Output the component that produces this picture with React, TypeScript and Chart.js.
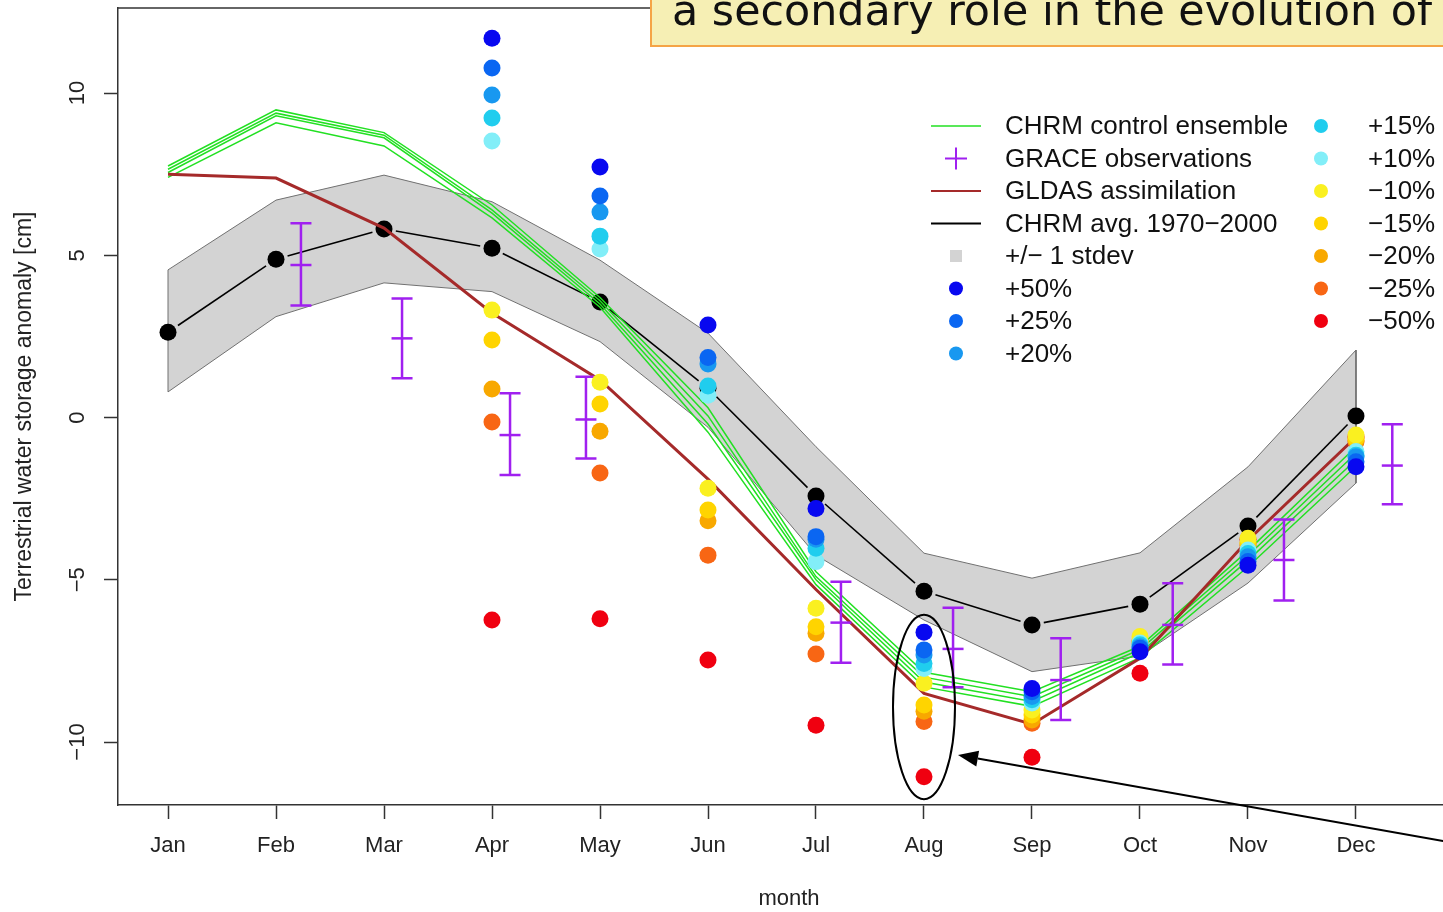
import React, { useEffect, useRef } from 'react';
import { Chart, registerables } from 'chart.js';

Chart.register(...registerables);

// ---------- data ----------
const monthLabels = ['Jan', 'Feb', 'Mar', 'Apr', 'May', 'Jun', 'Jul', 'Aug', 'Sep', 'Oct', 'Nov', 'Dec'];
const monthPos = [1, 2, 3, 4, 5, 6, 7, 8, 9, 10, 11, 12];
const yTickValues = [-10, -5, 0, 5, 10];

const chrmAvg = [2.63, 4.88, 5.81, 5.22, 3.56, 0.9, -2.42, -5.35, -6.39, -5.75, -3.34, 0.05];
const stdevUpper = [4.55, 6.7, 7.47, 6.65, 4.85, 2.6, -0.9, -4.18, -4.95, -4.17, -1.52, 2.08];
const stdevLower = [0.79, 3.11, 4.15, 3.88, 2.34, -0.3, -4.24, -6.24, -7.83, -7.35, -5.1, -2.02];

const ensemble1 = [7.75, 9.48, 8.78, 6.55, 3.7, 0.3, -4.75, -7.85, -8.45, -7.05, -4.1, -0.9];
const ensemble2 = [7.65, 9.38, 8.7, 6.4, 3.6, 0.05, -4.9, -8.0, -8.6, -7.15, -4.25, -1.1];
const ensemble3 = [7.55, 9.3, 8.62, 6.3, 3.5, -0.2, -5.0, -8.15, -8.75, -7.25, -4.4, -1.3];
const ensemble4 = [7.4, 9.08, 8.37, 6.15, 3.4, -0.45, -5.15, -8.3, -8.9, -7.4, -4.6, -1.5];

const gldas = [7.5, 7.38, 5.84, 3.22, 1.16, -1.9, -5.3, -8.5, -9.45, -7.42, -3.78, -0.6];

const graceX = [2.231, 3.167, 4.167, 4.87, 7.231, 8.269, 9.266, 10.303, 11.333, 12.336];
const graceMean = [4.7, 2.44, -0.54, -0.06, -6.32, -7.13, -8.09, -6.39, -4.39, -1.48];
const graceUpper = [5.99, 3.67, 0.75, 1.26, -5.06, -5.86, -6.8, -5.11, -3.14, -0.21];
const graceLower = [3.45, 1.21, -1.77, -1.26, -7.56, -8.31, -9.32, -7.61, -5.64, -2.67];

const scenP50 = [null, null, null, 11.69, 7.72, 2.85, -2.8, -6.62, -8.35, -7.22, -4.55, -1.52];
const scenP25 = [null, null, null, 10.77, 6.83, 1.85, -3.67, -7.16, -8.45, -7.11, -4.44, -1.36];
const scenP20 = [null, null, null, 9.94, 6.33, 1.65, -3.75, -7.32, -8.6, -7.06, -4.29, -1.21];
const scenP15 = [null, null, null, 9.23, 5.59, 0.97, -4.03, -7.58, -8.7, -7.0, -4.19, -1.16];
const scenP10 = [null, null, null, 8.52, 5.19, 0.69, -4.44, -7.73, -8.8, -6.95, -4.08, -1.05];
const scenM10 = [null, null, null, 3.31, 1.09, -2.18, -5.88, -8.19, -9.01, -6.75, -3.72, -0.54];
const scenM15 = [null, null, null, 2.39, 0.42, -2.85, -6.45, -8.86, -9.17, -6.86, -3.86, -0.64];
const scenM20 = [null, null, null, 0.88, -0.42, -3.18, -6.65, -9.05, -9.32, -6.9, -3.9, -0.7];
const scenM25 = [null, null, null, -0.14, -1.71, -4.24, -7.29, -9.37, -9.42, -6.95, -3.95, -0.75];
const scenM50 = [null, null, null, -6.24, -6.2, -7.47, -9.48, -11.07, -10.47, -7.88, -3.75, -0.6];

const scenarioLabels = ['+50%', '+25%', '+20%', '+15%', '+10%', '\u221210%', '\u221215%', '\u221220%', '\u221225%', '\u221250%'];
const scenarioValues = [scenP50, scenP25, scenP20, scenP15, scenP10, scenM10, scenM15, scenM20, scenM25, scenM50];
const scenarioColors = ['#0808F0', '#0A66F2', '#1898F0', '#20CDEE', '#82EEF8', '#FAF020', '#FFD400', '#F8A800', '#F86614', '#F00010'];

const legendLeftLabels = ['CHRM control ensemble', 'GRACE observations', 'GLDAS assimilation', 'CHRM avg. 1970\u22122000', '+/\u2212 1 stdev', '+50%', '+25%', '+20%'];
const legendRightLabels = ['+15%', '+10%', '\u221210%', '\u221215%', '\u221220%', '\u221225%', '\u221250%'];

const noteText = 'a secondary role in the evolution of';

// ---------- styles ----------
const FONT = '"Liberation Sans", Arial, Helvetica, sans-serif';
const GREEN = '#22E022';
const BROWN = '#A52A2A';
const PURPLE = '#A020F0';
const AVG_LABEL = 'CHRM avg. 1970-2000';

const pts = (xs: number[], ys: (number | null)[]) =>
  xs.map((x, i) => ({ x, y: ys[i] })).filter((p) => p.y !== null);

const zeroPad = (s: any) => {
  s.paddingTop = 0;
  s.paddingBottom = 0;
  s.paddingLeft = 0;
  s.paddingRight = 0;
};

export default function App() {
  const ref = useRef<HTMLCanvasElement | null>(null);

  useEffect(() => {
    const canvas = ref.current;
    if (!canvas) return;

    const bandData = [
      ...monthPos.map((x, i) => ({ x, y: stdevUpper[i] })),
      ...monthPos.map((x, i) => ({ x, y: stdevLower[i] })).reverse(),
    ];
    bandData.push({ x: monthPos[0], y: stdevUpper[0] });

    const datasets: any[] = [];
    datasets.push({
      label: '+/- 1 stdev',
      data: bandData,
      borderColor: '#707070',
      borderWidth: 1,
      backgroundColor: '#D3D3D3',
      fill: 'shape',
      pointRadius: 0,
      tension: 0,
      order: 40,
    });
    datasets.push({
      label: AVG_LABEL,
      data: pts(monthPos, chrmAvg),
      showLine: false,
      borderColor: '#000000',
      borderWidth: 1.6,
      pointRadius: 8.5,
      pointBackgroundColor: '#000000',
      pointBorderColor: '#000000',
      pointBorderWidth: 0,
      fill: false,
      order: 35,
    });
    [ensemble1, ensemble2, ensemble3, ensemble4].forEach((e, k) => {
      datasets.push({
        label: 'CHRM control ensemble ' + (k + 1),
        data: pts(monthPos, e),
        borderColor: GREEN,
        borderWidth: 1.5,
        pointRadius: 0,
        fill: false,
        order: 30 + k,
      });
    });
    datasets.push({
      label: 'GLDAS assimilation',
      data: pts(monthPos, gldas),
      borderColor: BROWN,
      borderWidth: 3,
      pointRadius: 0,
      fill: false,
      order: 20,
    });
    datasets.push({
      label: 'GRACE observations',
      data: pts(graceX, graceMean),
      showLine: false,
      pointStyle: 'line',
      pointRadius: 10.5,
      borderColor: PURPLE,
      pointBorderColor: PURPLE,
      pointBorderWidth: 2.5,
      order: 15,
    });
    scenarioLabels.forEach((lab, k) => {
      datasets.push({
        label: lab,
        data: pts(monthPos, scenarioValues[k]),
        showLine: false,
        pointRadius: 8.5,
        pointBackgroundColor: scenarioColors[k],
        pointBorderColor: scenarioColors[k],
        pointBorderWidth: 0,
        order: k,
      });
    });

    const overlay = {
      id: 'overlay',
      beforeDatasetDraw(chart: any, args: any) {
        // R "type=b" style: line segments with gaps around the points
        if (args.meta.label !== AVG_LABEL) return;
        const { ctx } = chart;
        const els = args.meta.data;
        ctx.save();
        ctx.strokeStyle = '#000';
        ctx.lineWidth = 1.6;
        const gap = 12;
        for (let i = 0; i < els.length - 1; i++) {
          const a = els[i], b = els[i + 1];
          const dx = b.x - a.x, dy = b.y - a.y;
          const len = Math.hypot(dx, dy);
          if (len <= 2 * gap) continue;
          const ux = dx / len, uy = dy / len;
          ctx.beginPath();
          ctx.moveTo(a.x + ux * gap, a.y + uy * gap);
          ctx.lineTo(b.x - ux * gap, b.y - uy * gap);
          ctx.stroke();
        }
        ctx.restore();
      },
      afterDatasetDraw(chart: any, args: any) {
        if (args.meta.label !== 'GRACE observations') return;
        const { ctx, scales } = chart;
        const xs = scales.x, ys = scales.y;
        ctx.save();
        ctx.strokeStyle = PURPLE;
        ctx.lineWidth = 2.5;
        graceX.forEach((gx, i) => {
          const px = xs.getPixelForValue(gx);
          const pu = ys.getPixelForValue(graceUpper[i]);
          const pl = ys.getPixelForValue(graceLower[i]);
          ctx.beginPath();
          ctx.moveTo(px, pu);
          ctx.lineTo(px, pl);
          ctx.moveTo(px - 10.5, pu);
          ctx.lineTo(px + 10.5, pu);
          ctx.moveTo(px - 10.5, pl);
          ctx.lineTo(px + 10.5, pl);
          ctx.stroke();
        });
        ctx.restore();
      },
      afterDraw(chart: any) {
        const { ctx, chartArea, scales } = chart;
        const xs = scales.x, ys = scales.y;
        ctx.save();
        // top frame line
        ctx.strokeStyle = '#333';
        ctx.lineWidth = 1.5;
        ctx.beginPath();
        ctx.moveTo(chartArea.left, chartArea.top);
        ctx.lineTo(chartArea.right, chartArea.top);
        ctx.stroke();

        // legend
        const rowY0 = 126;
        const rowStep = 32.5;
        const mx = 956;
        ctx.font = '26px ' + FONT;
        ctx.textBaseline = 'middle';
        ctx.textAlign = 'left';
        legendLeftLabels.forEach((lab, i) => {
          const y = rowY0 + i * rowStep;
          ctx.fillStyle = '#111';
          ctx.fillText(lab, 1005, y + 1);
          if (i === 0 || i === 2 || i === 3) {
            ctx.strokeStyle = i === 0 ? GREEN : i === 2 ? BROWN : '#000';
            ctx.lineWidth = i === 0 ? 1.5 : 2;
            ctx.beginPath();
            ctx.moveTo(931, y);
            ctx.lineTo(981, y);
            ctx.stroke();
          } else if (i === 1) {
            ctx.strokeStyle = PURPLE;
            ctx.lineWidth = 2;
            ctx.beginPath();
            ctx.moveTo(mx - 11, y);
            ctx.lineTo(mx + 11, y);
            ctx.moveTo(mx, y - 11);
            ctx.lineTo(mx, y + 11);
            ctx.stroke();
          } else if (i === 4) {
            ctx.fillStyle = '#D3D3D3';
            ctx.fillRect(mx - 6, y - 6, 12, 12);
          } else {
            ctx.fillStyle = scenarioColors[i - 5];
            ctx.beginPath();
            ctx.arc(mx, y, 7, 0, Math.PI * 2);
            ctx.fill();
          }
        });
        legendRightLabels.forEach((lab, i) => {
          const y = rowY0 + i * rowStep;
          ctx.fillStyle = scenarioColors[i + 3];
          ctx.beginPath();
          ctx.arc(1321, y, 7, 0, Math.PI * 2);
          ctx.fill();
          ctx.fillStyle = '#111';
          ctx.fillText(lab, 1368, y + 1);
        });

        // ellipse around August scenario points
        const ecx = xs.getPixelForValue(8);
        const ecy = ys.getPixelForValue(-8.92);
        const erx = xs.getPixelForValue(8.287) - ecx;
        const ery = ys.getPixelForValue(-11.76) - ecy;
        ctx.strokeStyle = '#000';
        ctx.lineWidth = 2;
        ctx.beginPath();
        ctx.ellipse(ecx, ecy, erx, ery, 0, 0, Math.PI * 2);
        ctx.stroke();

        // arrow
        const tipX = xs.getPixelForValue(8.315);
        const tipY = ys.getPixelForValue(-10.4);
        const tailX = xs.getPixelForValue(12.963);
        const tailY = ys.getPixelForValue(-13.14);
        const ang = Math.atan2(tipY - tailY, tipX - tailX);
        const headLen = 20, headW = 8;
        const bx = tipX - Math.cos(ang) * headLen;
        const by = tipY - Math.sin(ang) * headLen;
        ctx.lineWidth = 2;
        ctx.beginPath();
        ctx.moveTo(tailX, tailY);
        ctx.lineTo(bx, by);
        ctx.stroke();
        ctx.fillStyle = '#000';
        ctx.beginPath();
        ctx.moveTo(tipX, tipY);
        ctx.lineTo(bx + Math.sin(ang) * headW, by - Math.cos(ang) * headW);
        ctx.lineTo(bx - Math.sin(ang) * headW, by + Math.cos(ang) * headW);
        ctx.closePath();
        ctx.fill();

        // note box (slide overlay)
        ctx.fillStyle = '#F6EFB4';
        ctx.fillRect(651, -10, 900, 56);
        ctx.strokeStyle = '#F5A446';
        ctx.lineWidth = 2;
        ctx.strokeRect(651, -10, 900, 56);
        let fs = 36;
        ctx.font = fs + 'px "DejaVu Sans", Verdana, sans-serif';
        const w = ctx.measureText(noteText).width;
        fs = fs * 760 / w;
        ctx.font = fs.toFixed(2) + 'px "DejaVu Sans", Verdana, sans-serif';
        ctx.fillStyle = '#111';
        ctx.textBaseline = 'alphabetic';
        ctx.textAlign = 'left';
        ctx.fillText(noteText, 672, 25);
        ctx.restore();
      },
    };

    const chart = new Chart(canvas, {
      type: 'line',
      data: { datasets },
      options: {
        responsive: false,
        devicePixelRatio: 1,
        animation: false,
        events: [],
        layout: { autoPadding: false, padding: { top: 8, left: 0, right: 0, bottom: 0 } },
        plugins: { legend: { display: false }, tooltip: { enabled: false } },
        scales: {
          x: {
            type: 'linear',
            min: 0.537,
            max: 12.963,
            afterFit: (s: any) => { s.height = 107; zeroPad(s); },
            afterBuildTicks: (s: any) => { s.ticks = monthPos.map((v) => ({ value: v })); },
            grid: { drawOnChartArea: false, drawTicks: true, tickLength: 14, tickColor: '#333', tickWidth: 1.5 },
            border: { display: true, color: '#333', width: 1.5 },
            ticks: {
              color: '#222',
              font: { family: FONT, size: 22 },
              padding: 14,
              maxRotation: 0,
              autoSkip: false,
              callback: (v: any) => monthLabels[Math.round(v) - 1] ?? '',
            },
            title: { display: true, text: 'month', color: '#222', font: { family: FONT, size: 22 }, padding: { top: 0, bottom: 0 } },
          },
          y: {
            type: 'linear',
            min: -11.94,
            max: 12.62,
            afterFit: (s: any) => { s.width = 118; zeroPad(s); },
            afterBuildTicks: (s: any) => { s.ticks = yTickValues.map((v) => ({ value: v })); },
            grid: { drawOnChartArea: false, drawTicks: true, tickLength: 14, tickColor: '#333', tickWidth: 1.5 },
            border: { display: true, color: '#333', width: 1.5 },
            ticks: {
              color: '#222',
              font: { family: FONT, size: 22 },
              padding: 7,
              minRotation: 90,
              maxRotation: 90,
              crossAlign: 'center',
              autoSkip: false,
              callback: (v: any) => (v < 0 ? '\u2212' + Math.abs(v) : String(v)),
            },
            title: { display: true, text: 'Terrestrial water storage anomaly [cm]', color: '#222', font: { family: FONT, size: 23 }, padding: { top: 11, bottom: 0 } },
          },
        },
      },
      plugins: [overlay],
    } as any);

    return () => chart.destroy();
  }, []);

  return (
    <div style={{ position: 'fixed', left: 0, top: 0, width: 1443, height: 912, overflow: 'hidden', background: '#fff' }}>
      <canvas ref={ref} width={1460} height={912} style={{ display: 'block', width: 1460, height: 912 }} />
    </div>
  );
}
